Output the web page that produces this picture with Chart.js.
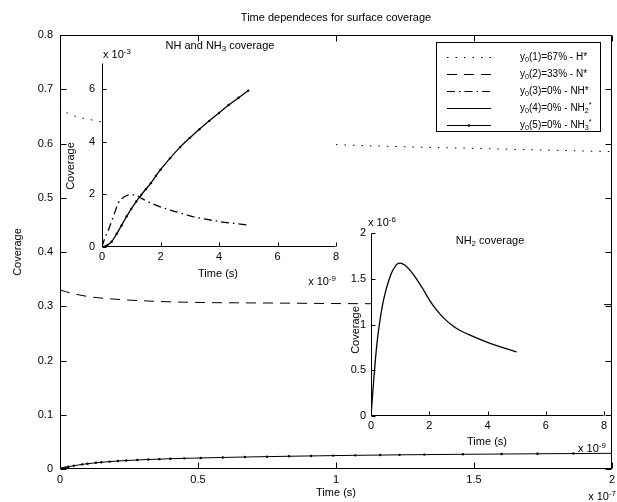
<!DOCTYPE html>
<html>
<head>
<meta charset="utf-8">
<script src="https://cdn.jsdelivr.net/npm/chart.js@4"></script>
<style>
  body { margin: 0; background: #fff; overflow: hidden; }
  #wrap { position: relative; width: 617px; height: 502px; }
  canvas { position: absolute; }
</style>
</head>
<body>
<div id="wrap">
  <canvas id="main" width="617" height="502" style="left:0;top:0"></canvas>
  <canvas id="inset1" width="300" height="256" style="left:40px;top:36px"></canvas>
  <canvas id="inset2" width="287" height="260" style="left:330px;top:210px"></canvas>
</div>
<script>
// ---- main plot, time in units of 1e-7 s ----
const hTime  = [0, 0.01, 0.02, 0.04, 0.07, 0.1, 0.15, 0.25, 0.4, 0.6, 0.8, 1.0, 1.25, 1.5, 1.75, 2.0];
const hCov   = [0.667, 0.662, 0.658, 0.653, 0.648, 0.645, 0.640, 0.632, 0.622, 0.612, 0.604, 0.598, 0.594, 0.591, 0.588, 0.585];
const nTime  = [0, 0.02, 0.05, 0.1, 0.2, 0.35, 0.5, 0.75, 1.0, 1.5, 2.0];
const nCov   = [0.33, 0.327, 0.323, 0.318, 0.313, 0.309, 0.307, 0.306, 0.305, 0.304, 0.303];
const nhTime = [0, 0.01, 0.03, 0.05, 0.1, 0.2, 0.5, 1.0, 2.0];
const nhCov  = [0, 0.002, 0.0013, 0.00085, 0.0007, 0.0006, 0.0005, 0.0004, 0.0003];
const nh2Time = [0, 0.01, 0.05, 0.5, 1.0, 2.0];
const nh2Cov  = [0, 0.0000017, 0.0000007, 0.0000002, 0.0000001, 0.00000005];
const nh3Time = [0, 0.005, 0.01, 0.02, 0.03, 0.05, 0.08, 0.10, 0.13, 0.15, 0.18, 0.21, 0.24, 0.28, 0.32, 0.36, 0.40,
                 0.45, 0.51, 0.59, 0.67, 0.75, 0.83, 0.91, 0.99, 1.07, 1.16, 1.23, 1.32, 1.46, 1.60, 1.73, 1.86, 2.0];
const nh3Cov  = [0, 0.0005, 0.00145, 0.0029, 0.0041, 0.006, 0.0085, 0.0098, 0.0114, 0.0124, 0.0136, 0.0147, 0.0156,
                 0.0166, 0.0175, 0.0182, 0.0189, 0.0196, 0.0204, 0.0213, 0.0221, 0.0228, 0.0235, 0.0241, 0.0247,
                 0.0252, 0.0257, 0.0261, 0.0265, 0.0271, 0.0276, 0.0281, 0.0285, 0.0289];
const mainXTicks = [0, 0.5, 1, 1.5, 2];
const mainXLabels = ["0", "0.5", "1", "1.5", "2"];
const mainYTicks = [0, 0.1, 0.2, 0.3, 0.4, 0.5, 0.6, 0.7, 0.8];
const mainYLabels = ["0", "0.1", "0.2", "0.3", "0.4", "0.5", "0.6", "0.7", "0.8"];
const legendLabels = [
  "y_{0}(1)=67% - H*",
  "y_{0}(2)=33% - N*",
  "y_{0}(3)=0% - NH*",
  "y_{0}(4)=0% - NH_{2}^{*}",
  "y_{0}(5)=0% - NH_{3}^{*}"
];

// ---- inset 1: NH and NH3, time 1e-9 s, coverage 1e-3 ----
const in1Nh3Time = [0, 0.17, 0.33, 0.5, 0.67, 0.84, 1.0, 1.17, 1.34, 1.5, 1.67, 1.84, 2.0, 2.33, 2.67, 3.0, 3.33, 3.67, 4.0, 4.33, 4.67, 5.0];
const in1Nh3Cov  = [0, 0.06, 0.2, 0.5, 0.82, 1.16, 1.45, 1.73, 1.98, 2.2, 2.43, 2.7, 2.94, 3.38, 3.8, 4.15, 4.48, 4.8, 5.1, 5.4, 5.68, 5.95];
const in1NhTime  = [0, 0.1, 0.22, 0.4, 0.56, 0.75, 1.0, 1.2, 1.4, 1.7, 2.2, 2.6, 3.1, 3.5, 4.0, 4.5, 4.95];
const in1NhCov   = [0, 0.35, 0.65, 1.2, 1.68, 1.9, 2.0, 1.95, 1.82, 1.66, 1.45, 1.32, 1.16, 1.07, 0.97, 0.9, 0.84];
const in1XTicks = [0, 2, 4, 6, 8];
const in1YTicks = [0, 2, 4, 6];

// ---- inset 2: NH2, time 1e-9 s, coverage 1e-6 ----
const in2Time = [0, 0.1, 0.2, 0.3, 0.4, 0.5, 0.6, 0.7, 0.8, 0.9, 1.0, 1.1, 1.2, 1.4, 1.6, 1.8, 2.0, 2.25, 2.5, 2.75, 3.0, 3.5, 4.0, 4.5, 5.0];
const in2Cov  = [0, 0.42, 0.78, 1.03, 1.22, 1.36, 1.47, 1.56, 1.62, 1.66, 1.67, 1.66, 1.64, 1.57, 1.48, 1.38, 1.27, 1.16, 1.07, 1.0, 0.945, 0.87, 0.805, 0.75, 0.70];
const in2XTicks = [0, 2, 4, 6, 8];
const in2YTicks = [0, 0.5, 1, 1.5, 2];
const in2YLabels = ["0", "0.5", "1", "1.5", "2"];

const FONT = "'Liberation Sans', Arial, sans-serif";

function pairs(xs, ys) {
  return xs.map((x, i) => ({ x: x, y: ys[i] }));
}

// text with _{sub} and ^{sup} pieces
function richParts(s) {
  return s.split(/(_\{[^}]*\}|\^\{[^}]*\})/).filter(p => p !== "").map(p => {
    if (p[0] === "_") return { t: p.slice(2, -1), dy: 3 };
    if (p[0] === "^") return { t: p.slice(2, -1), dy: -3.5 };
    return { t: p, dy: 0 };
  });
}

function drawRich(c, s, x, y, size, align) {
  const parts = richParts(s);
  let w = 0;
  parts.forEach(p => {
    c.font = (p.dy ? size * 0.72 : size) + "px " + FONT;
    p.w = c.measureText(p.t).width;
    w += p.w;
  });
  let cx = align === "center" ? x - w / 2 : align === "right" ? x - w : x;
  c.textAlign = "left";
  c.textBaseline = "middle";
  parts.forEach(p => {
    c.font = (p.dy ? size * 0.72 : size) + "px " + FONT;
    c.fillText(p.t, cx, y + p.dy);
    cx += p.w;
  });
}

const frame = {
  id: "frame",
  beforeDatasetsDraw(chart) {
    const a = chart.chartArea, c = chart.ctx;
    c.save();
    c.fillStyle = "#fff";
    c.fillRect(a.left, a.top, a.right - a.left, a.bottom - a.top);
    c.restore();
  },
  afterDatasetsDraw(chart, args, o) {
    const a = chart.chartArea, c = chart.ctx;
    const xs = chart.scales.x, ys = chart.scales.y;
    const L = Math.round(a.left) + 0.5, R = Math.round(a.right) - 0.5;
    const T = Math.round(a.top) + 0.5, B = Math.round(a.bottom) - 0.5;
    c.save();
    c.strokeStyle = "#000";
    c.fillStyle = "#000";
    c.lineWidth = 1;
    c.setLineDash([]);
    c.beginPath();
    c.moveTo(L, T); c.lineTo(L, B); c.lineTo(R, B);
    if (o.box) { c.lineTo(R, T); c.lineTo(L, T); }
    // inward ticks
    o.xTicks.forEach(v => {
      const px = Math.round(xs.getPixelForValue(v)) + 0.5;
      c.moveTo(px, B); c.lineTo(px, B - o.tick);
      if (o.box) { c.moveTo(px, T); c.lineTo(px, T + o.tick); }
    });
    o.yTicks.forEach(v => {
      const py = Math.round(ys.getPixelForValue(v)) + 0.5;
      c.moveTo(L, py); c.lineTo(L + o.tick, py);
      if (o.box) { c.moveTo(R, py); c.lineTo(R - o.tick, py); }
    });
    c.stroke();

    // tick labels
    c.font = o.size + "px " + FONT;
    c.textBaseline = "middle";
    c.textAlign = "center";
    o.xTicks.forEach((v, i) => {
      c.fillText(o.xLabels[i], xs.getPixelForValue(v), a.bottom + o.xGap);
    });
    c.textAlign = "right";
    o.yTicks.forEach((v, i) => {
      c.fillText(o.yLabels[i], a.left - o.yGap, ys.getPixelForValue(v));
    });

    // free texts in page coordinates
    c.translate(-o.ox, -o.oy);
    o.texts.forEach(t => {
      c.save();
      if (t.rot) {
        c.translate(t.x, t.y);
        c.rotate(-Math.PI / 2);
        drawRich(c, t.s, 0, 0, t.size || o.size, "center");
      } else {
        drawRich(c, t.s, t.x, t.y, t.size || o.size, t.align || "center");
      }
      c.restore();
    });

    // legend box
    if (o.legend) {
      const g = o.legend;
      c.fillStyle = "#fff";
      c.fillRect(g.box[0], g.box[1], g.box[2] - g.box[0], g.box[3] - g.box[1]);
      c.strokeStyle = "#000";
      c.lineWidth = 1;
      c.strokeRect(g.box[0] + 0.5, g.box[1] + 0.5, g.box[2] - g.box[0], g.box[3] - g.box[1]);
      c.fillStyle = "#000";
      g.labels.forEach((lab, i) => {
        const ds = chart.data.datasets[i];
        const y = g.y0 + i * g.dy + 0.5;
        c.setLineDash(ds.borderDash || []);
        c.beginPath();
        c.moveTo(g.x0, y); c.lineTo(g.x1, y);
        c.stroke();
        c.setLineDash([]);
        if (ds.pointRadius) {
          c.beginPath();
          c.arc((g.x0 + g.x1) / 2, y, 1.3, 0, Math.PI * 2);
          c.fill();
        }
        drawRich(c, lab, g.tx, y, g.size, "left");
      });
    }
    c.restore();
  }
};

function lineSet(data, dash, width, markers) {
  return {
    data: data,
    borderColor: "#000",
    backgroundColor: "#000",
    borderWidth: width,
    borderDash: dash,
    fill: false,
    cubicInterpolationMode: "monotone",
    pointRadius: markers ? 1.2 : 0,
    pointBorderWidth: 0,
    pointBackgroundColor: "#000"
  };
}

function makeChart(id, datasets, pad, xr, yr, frameOpts) {
  return new Chart(document.getElementById(id).getContext("2d"), {
    type: "line",
    data: { datasets: datasets },
    options: {
      responsive: false,
      animation: false,
      devicePixelRatio: 1,
      layout: { padding: pad },
      scales: {
        x: { type: "linear", min: xr[0], max: xr[1], display: false },
        y: { type: "linear", min: yr[0], max: yr[1], display: false }
      },
      plugins: {
        legend: { display: false },
        title: { display: false },
        tooltip: { enabled: false },
        frame: frameOpts
      }
    },
    plugins: [frame]
  });
}

// main chart
makeChart("main", [
  lineSet(pairs(hTime, hCov), [1.5, 7], 1, false),
  lineSet(pairs(nTime, nCov), [10, 7], 1, false),
  lineSet(pairs(nhTime, nhCov), [8, 4, 1.5, 4], 1, false),
  lineSet(pairs(nh2Time, nh2Cov), [], 1, false),
  lineSet(pairs(nh3Time, nh3Cov), [], 1, true)
], { left: 60, right: 5, top: 35, bottom: 33 }, [0, 2], [0, 0.8], {
  box: true, tick: 6, size: 11, xGap: 11, yGap: 7, ox: 0, oy: 0,
  xTicks: mainXTicks, xLabels: mainXLabels, yTicks: mainYTicks, yLabels: mainYLabels,
  texts: [
    { s: "Time dependeces for surface coverage", x: 336, y: 18 },
    { s: "Coverage", x: 18, y: 252, rot: true },
    { s: "Time (s)", x: 336, y: 493 },
    { s: "x 10^{-7}", x: 616, y: 497, align: "right" }
  ],
  legend: {
    box: [436, 42, 600, 131], x0: 447, x1: 491, tx: 520, y0: 57, dy: 17, size: 10,
    labels: legendLabels
  }
});

// inset 1
makeChart("inset1", [
  lineSet(pairs(in1NhTime, in1NhCov), [8, 4, 1.5, 4], 1.3, false),
  lineSet(pairs(in1Nh3Time, in1Nh3Cov), [], 1.3, true)
], { left: 62, right: 4, top: 27, bottom: 45 }, [0, 8], [0, 7], {
  box: false, tick: 4, size: 11, xGap: 10, yGap: 7, ox: 40, oy: 36,
  xTicks: in1XTicks, xLabels: in1XTicks.map(String), yTicks: in1YTicks, yLabels: in1YTicks.map(String),
  texts: [
    { s: "NH and NH_{3} coverage", x: 220, y: 46 },
    { s: "x 10^{-3}", x: 103, y: 55, align: "left" },
    { s: "Coverage", x: 71, y: 166, rot: true },
    { s: "Time (s)", x: 218, y: 274 },
    { s: "x 10^{-9}", x: 336, y: 282, align: "right" }
  ]
});

// inset 2
makeChart("inset2", [
  lineSet(pairs(in2Time, in2Cov), [], 1.3, false)
], { left: 41, right: 13, top: 23, bottom: 54 }, [0, 8], [0, 2], {
  box: false, tick: 4, size: 11, xGap: 10, yGap: 5, ox: 330, oy: 210,
  xTicks: in2XTicks, xLabels: in2XTicks.map(String), yTicks: in2YTicks, yLabels: in2YLabels,
  texts: [
    { s: "x 10^{-6}", x: 368, y: 223, align: "left" },
    { s: "NH_{2} coverage", x: 490, y: 241 },
    { s: "Coverage", x: 356, y: 330, rot: true },
    { s: "Time (s)", x: 487, y: 442 },
    { s: "x 10^{-9}", x: 578, y: 449, align: "left" }
  ]
});
</script>
</body>
</html>
